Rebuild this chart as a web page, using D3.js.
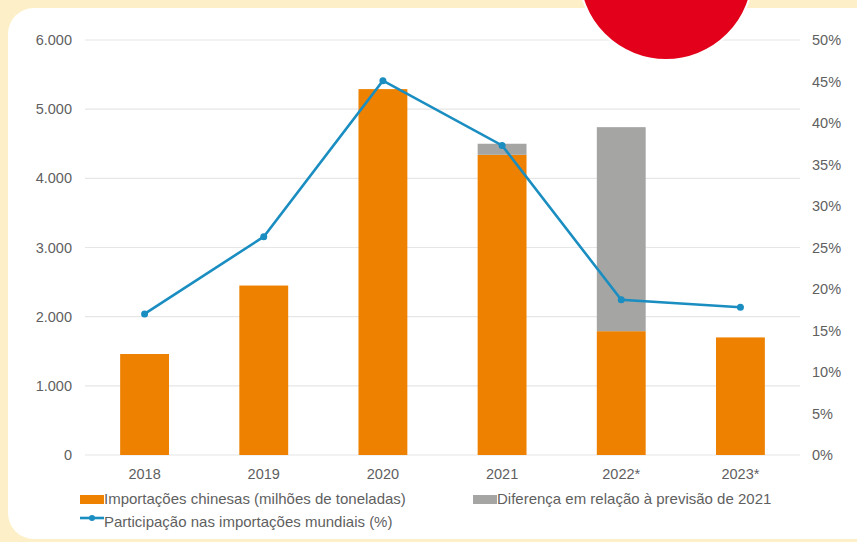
<!DOCTYPE html><html lang="pt">
<head>
  <meta charset="UTF-8">
  <title>Importações chinesas</title>
  <script src="https://d3js.org/d3.v7.min.js"></script>
  <style>
    body {
      margin: 0;
      background: #fdf0c8;
      font-family: "Liberation Sans", Arial, sans-serif;
    }
    svg { display: block; }
    .tick-label { font-size: 14.5px; fill: #5f5f5f; }
    .legend-label { font-size: 15px; fill: #5f5f5f; }
  </style>
</head>
<body>
<svg width="857" height="542"></svg>
<script>
const years = ["2018", "2019", "2020", "2021", "2022*", "2023*"];
const imports = [1460, 2450, 5290, 4340, 1790, 1700];
const diff = [0, 0, 0, 160, 2950, 0];
const share = [17.0, 26.3, 45.1, 37.3, 18.7, 17.8];
const leftTicks = [0, 1000, 2000, 3000, 4000, 5000, 6000];
const rightTicks = [0, 5, 10, 15, 20, 25, 30, 35, 40, 45, 50];

const svg = d3.select("svg");

// background card
svg.append("rect")
  .attr("x", 8).attr("y", 8)
  .attr("width", 880).attr("height", 531)
  .attr("rx", 26)
  .attr("fill", "#ffffff");

const plot = { left: 85, right: 800, top: 40, bottom: 455 };

const x = d3.scaleBand()
  .domain(years)
  .range([plot.left, plot.right])
  .paddingInner(0.59)
  .paddingOuter(0.295);

const y = d3.scaleLinear().domain([0, 6000]).range([plot.bottom, plot.top]);
const y2 = d3.scaleLinear().domain([0, 50]).range([plot.bottom, plot.top]);

const fmt = d3.formatLocale({ decimal: ",", thousands: ".", grouping: [3], currency: ["", ""] }).format(",d");

// gridlines
svg.append("g")
  .selectAll("line")
  .data(leftTicks)
  .join("line")
  .attr("x1", plot.left).attr("x2", plot.right)
  .attr("y1", d => y(d)).attr("y2", d => y(d))
  .attr("stroke", "#e6e6e6")
  .attr("stroke-width", 1.2);

// left axis
svg.append("g")
  .selectAll("text")
  .data(leftTicks)
  .join("text")
  .attr("class", "tick-label")
  .attr("x", 72)
  .attr("y", d => y(d) + 5)
  .attr("text-anchor", "end")
  .text(d => fmt(d));

// right axis
svg.append("g")
  .selectAll("text")
  .data(rightTicks)
  .join("text")
  .attr("class", "tick-label")
  .attr("x", 812)
  .attr("y", d => y2(d) + 5)
  .text(d => d + "%");

// x labels
svg.append("g")
  .selectAll("text")
  .data(years)
  .join("text")
  .attr("class", "tick-label")
  .attr("x", d => x(d) + x.bandwidth() / 2)
  .attr("y", 479)
  .attr("text-anchor", "middle")
  .text(d => d);

// bars
const bars = years.map((yr, i) => ({ yr, imp: imports[i], diff: diff[i] }));

svg.append("g")
  .selectAll("rect")
  .data(bars)
  .join("rect")
  .attr("x", d => x(d.yr))
  .attr("width", x.bandwidth())
  .attr("y", d => y(d.imp))
  .attr("height", d => y(0) - y(d.imp))
  .attr("fill", "#ee8100");

svg.append("g")
  .selectAll("rect")
  .data(bars.filter(d => d.diff > 0))
  .join("rect")
  .attr("x", d => x(d.yr))
  .attr("width", x.bandwidth())
  .attr("y", d => y(d.imp + d.diff))
  .attr("height", d => y(d.imp) - y(d.imp + d.diff))
  .attr("fill", "#a5a5a3");

// line
const pts = years.map((yr, i) => ({ yr, v: share[i] }));
const line = d3.line()
  .x(d => x(d.yr) + x.bandwidth() / 2)
  .y(d => y2(d.v));

svg.append("path")
  .datum(pts)
  .attr("d", line)
  .attr("fill", "none")
  .attr("stroke", "#1a8dc1")
  .attr("stroke-width", 2.6);

svg.append("g")
  .selectAll("circle")
  .data(pts)
  .join("circle")
  .attr("cx", d => x(d.yr) + x.bandwidth() / 2)
  .attr("cy", d => y2(d.v))
  .attr("r", 3.5)
  .attr("fill", "#1a8dc1");

// legend
const lg = svg.append("g");
lg.append("rect").attr("x", 80).attr("y", 495).attr("width", 24).attr("height", 9).attr("fill", "#ee8100");
lg.append("text").attr("class", "legend-label").attr("x", 104).attr("y", 504)
  .text("Importações chinesas (milhões de toneladas)");
lg.append("rect").attr("x", 473).attr("y", 495).attr("width", 24).attr("height", 9).attr("fill", "#a5a5a3");
lg.append("text").attr("class", "legend-label").attr("x", 497).attr("y", 504)
  .text("Diferença em relação à previsão de 2021");
lg.append("line").attr("x1", 80).attr("x2", 104).attr("y1", 518).attr("y2", 518)
  .attr("stroke", "#1a8dc1").attr("stroke-width", 2.6);
lg.append("circle").attr("cx", 92).attr("cy", 518).attr("r", 3).attr("fill", "#1a8dc1");
lg.append("text").attr("class", "legend-label").attr("x", 104).attr("y", 527)
  .text("Participação nas importações mundiais (%)");

// red decorative circle
svg.append("circle")
  .attr("cx", 666).attr("cy", -27).attr("r", 87)
  .attr("fill", "#e2001a")
  .attr("stroke", "#ffffff")
  .attr("stroke-width", 2);
</script>
</body>
</html>
